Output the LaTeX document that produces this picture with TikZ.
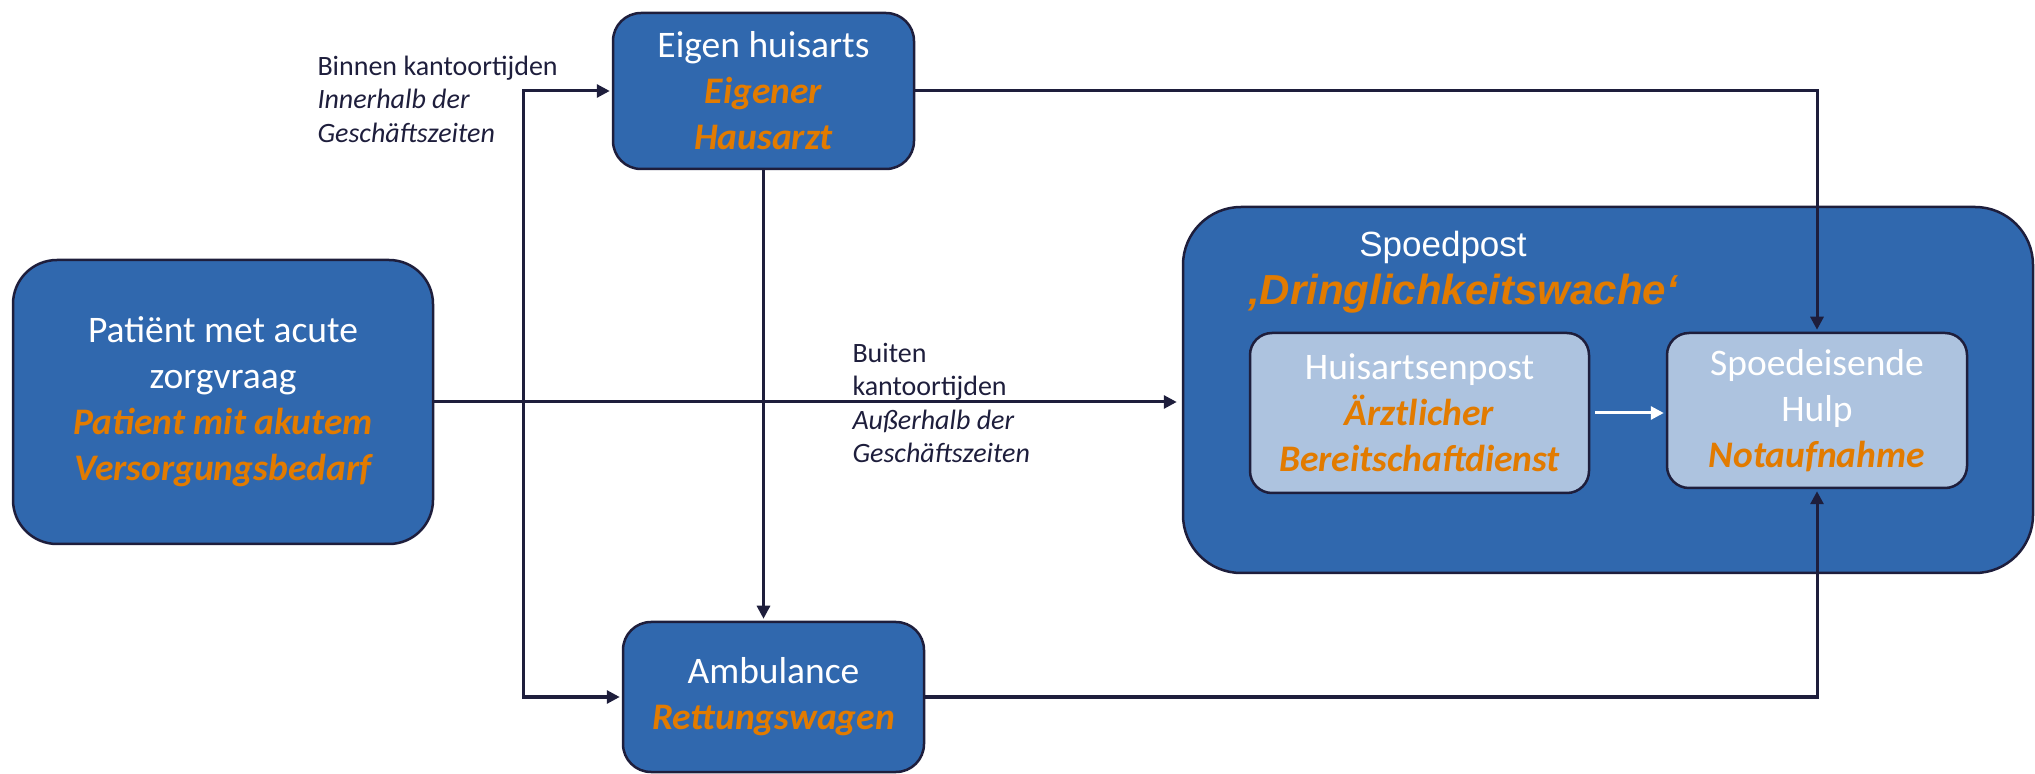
\documentclass[tikz,border=0pt]{standalone}
\usepackage{fontspec}
\setmainfont{Carlito}
\newfontfamily\arialfont{Liberation Sans}
\usetikzlibrary{arrows.meta,positioning}
\usepackage{xcolor}
\definecolor{boxblue}{HTML}{3068AE}
\definecolor{paleblue}{HTML}{ADC3DF}
\definecolor{deorange}{HTML}{E27B00}
\definecolor{navy}{HTML}{1E1E3C}
\newcommand{\dtxt}[1]{\textcolor{deorange}{\bfseries\itshape #1}}

\begin{document}
\begin{tikzpicture}[x=0.5pt,y=-0.5pt,>={Triangle[length=6.5pt,width=6.5pt]},
      shorten >=1pt,line width=1.5pt,
      main node/.style={rectangle,rounded corners=14pt,draw=navy,line width=1.25pt,
          fill=boxblue,text=white,align=center,inner sep=0pt,
          font=\fontsize{18.75}{23}\selectfont},
      inner node/.style={main node,fill=paleblue,rounded corners=11pt},
      label node/.style={anchor=west,align=left,inner sep=0pt,text=navy,
          font=\fontsize{14}{16.75}\selectfont},
      vh/.style={to path={|- (\tikztotarget)}},
      hv/.style={to path={-| (\tikztotarget)}}]

    \useasboundingbox (0,0) rectangle (2035,774);

    \node[main node,minimum width=210pt,minimum height=142pt,rounded corners=22pt] (patient) at (223,402)
        {Patiënt met acute\\zorgvraag\\\dtxt{Patient mit akutem}\\\dtxt{Versorgungsbedarf}};
    \node[main node,minimum width=150.5pt,minimum height=78pt] (eigen) at (763.5,91)
        {Eigen huisarts\\\dtxt{Eigener}\\\dtxt{Hausarzt}};
    \node[main node,minimum width=150.5pt,minimum height=75pt] (amb) at (773.5,697)
        {Ambulance\\\dtxt{Rettungswagen}};
    \node[main node,minimum width=425pt,minimum height=183pt,rounded corners=29pt] (spoed) at (1608,390) {};
    \node[anchor=base,inner sep=0pt,text=white,font=\arialfont\fontsize{17.5}{21}\selectfont] (spoedtitle) at (1443,257) {Spoedpost};
    \node[anchor=base,inner sep=0pt,font=\arialfont\fontsize{21}{25}\selectfont] (spoedsub) at (1463,305) {\dtxt{‚Dringlichkeitswache‘}};
    \node[inner node,minimum width=169.5pt,minimum height=80pt] (hap) at (1419.5,413)
        {Huisartsenpost\\\dtxt{Ärztlicher}\\\dtxt{Bereitschaftdienst}};
    \node[inner node,minimum width=150pt,minimum height=77.5pt] (seh) at (1817,410.5)
        {Spoedeisende\\Hulp\\\dtxt{Notaufnahme}};

    \node[label node] (binnen) at (316,99) {Binnen kantoortijden\\\textit{Innerhalb der}\\\textit{Geschäftszeiten}};
    \node[label node] (buiten) at (851,403) {Buiten\\kantoortijden\\\textit{Außerhalb der}\\\textit{Geschäftszeiten}};

    \coordinate (split) at (523,402);

    \path[->,color=navy]
    (patient.east) edge [shorten >=2.5pt] (patient.east -| spoed.west)
    (split) edge [vh] (eigen.west)
    (split) edge [vh] (amb.west)
    (eigen.south) edge (eigen.south |- amb.north)
    (eigen.east) edge [hv] (seh.north)
    (amb.east) edge [hv] (seh.south)
    (hap.east) edge [white,shorten <=2.5pt] (hap.east -| seh.west)
    ;

\end{tikzpicture}
\end{document}
